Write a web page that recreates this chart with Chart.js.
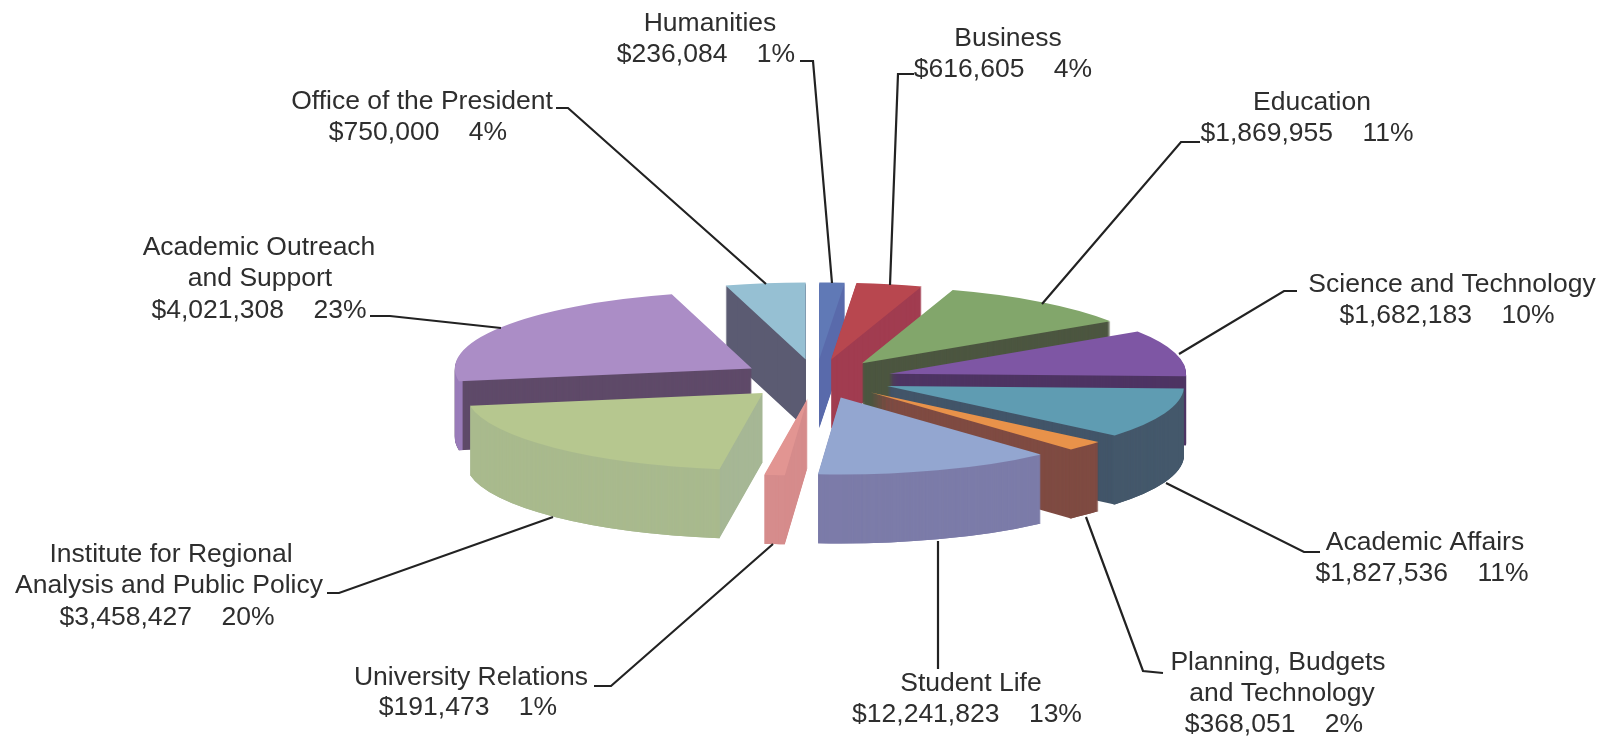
<!DOCTYPE html>
<html>
<head>
<meta charset="utf-8">
<script src="https://cdn.jsdelivr.net/npm/chart.js@4"></script>
<style>html,body{margin:0;padding:0;background:#fff}canvas{display:block}</style>
</head>
<body>
<canvas id="c" width="1610" height="739"></canvas>
<script>
const categories = ["Humanities","Business","Education","Science and Technology","Academic Affairs","Planning, Budgets and Technology","Student Life","University Relations","Institute for Regional Analysis and Public Policy","Academic Outreach and Support","Office of the President"];
// Slice sizes. The printed Student Life figure reads $12,241,823, but its 13% share and its angle fit 2,241,823.
const amounts = [236084,616605,1869955,1682183,1827536,368051,2241823,191473,3458427,4021308,750000];
const amountLabels = ["$236,084","$616,605","$1,869,955","$1,682,183","$1,827,536","$368,051","$12,241,823","$191,473","$3,458,427","$4,021,308","$750,000"];
const percentLabels = ["1%","4%","11%","10%","11%","2%","13%","1%","20%","23%","4%"];

const faceColors = ["#6079b6","#b8474f","#82a66b","#7e56a4","#5f9cb2","#e8924a","#93a6d0","#e29592","#b6c78f","#ab8dc6","#96c0d3"];
const wallColors = ["#5a6bac","#a13c50","#4c5640","#4e3463","#425569","#7f4b42","#7c7ba8","#d68c8c","#a6b795","#5f4a69","#5b5b72"];
const rimColors  = ["#5a6bac","#a13c50","#4c5640","#4e3463","#44586b","#7f4b42","#7c7ca9","#d68c8c","#a9ba8d","#9a7dba","#5b5b72"];

const labelLines = [["Humanities"],["Business"],["Education"],["Science and Technology"],["Academic Affairs"],["Planning, Budgets","and Technology"],["Student Life"],["University Relations"],["Institute for Regional","Analysis and Public Policy"],["Academic Outreach","and Support"],["Office of the President"]];
const labelCenters = [[[710,23.5],[706,55]],[[1008,39],[1003,70]],[[1312,103],[1307,134]],[[1452,285],[1447,316]],[[1425,543],[1422,574]],[[1278,663],[1282,694],[1274,725]],[[971,684],[967,715]],[[471,678],[468,708]],[[171,555],[169,586],[167,618]],[[259,248],[260,279],[259,311]],[[422,102],[418,133]]];
const leaders = [[[800,61],[813,61],[832,283]],[[914,74],[898,74],[890,285]],[[1200,142],[1181,142],[1042,304]],[[1297,291],[1284,291],[1179,354]],[[1320,552],[1304,552],[1166,483]],[[1163,673],[1143,671],[1086,517]],[[938,669],[938,541]],[[594,686],[611,686],[773,544]],[[327,593],[339,593],[553,517]],[[370,316],[390,316],[501,328]],[[556,108],[568,108],[766,284]]];

const pieCenter = {x:816, y:379};
const tilt = 0.259, depth = 69, explode = 76, pieRadius = 297;

function flat(color){return {backgroundColor:color,borderColor:color,borderWidth:0,borderAlign:'center',borderRadius:0,offset:0,spacing:0,circular:true,borderDash:[],borderDashOffset:0,borderJoinStyle:'round'};}

const pie3d = {
  id:'pie3d',
  beforeDatasetDraw(chart,args){
    const ctx = chart.ctx;
    const arcs = args.meta.data;
    const order = arcs.map((a,i)=>i).sort((p,q)=>{
      const h = i => (arcs[i].startAngle+arcs[i].endAngle)/2;
      return Math.sin(h(p))-Math.sin(h(q));
    });
    for(const i of order){
      const arc=arcs[i], own=arc.options;
      const start=arc.startAngle,end=arc.endAngle,sweep=arc.circumference,inner=arc.innerRadius;
      const mid=(start+end)/2;
      const place=dz=>{
        ctx.translate(pieCenter.x,pieCenter.y+dz);
        ctx.scale(1,tilt);
        ctx.translate(Math.cos(mid)*explode-arc.x,Math.sin(mid)*explode-arc.y);
      };
      const extrude=()=>{for(let z=depth;z>0;z--){ctx.save();place(z);arc.draw(ctx);ctx.restore();}};
      arc.options=flat(wallColors[i]);
      extrude();
      // the curved outer wall only shows where it faces the viewer
      const s=Math.max(start,0),e=Math.min(end,Math.PI);
      if(e>s){
        arc.options=flat(rimColors[i]);
        arc.startAngle=s;arc.endAngle=e;arc.circumference=e-s;arc.innerRadius=arc.outerRadius-4;
        extrude();
        arc.startAngle=start;arc.endAngle=end;arc.circumference=sweep;arc.innerRadius=inner;
      }
      arc.options=own;
      ctx.save();place(0);arc.draw(ctx);ctx.restore();
    }
    return false;
  },
  afterDraw(chart){
    const ctx=chart.ctx;
    ctx.save();
    ctx.strokeStyle='#222';ctx.lineWidth=2.2;ctx.lineJoin='miter';
    leaders.forEach(pts=>{ctx.beginPath();pts.forEach((p,i)=>i?ctx.lineTo(p[0],p[1]):ctx.moveTo(p[0],p[1]));ctx.stroke();});
    ctx.fillStyle='#2e2e2e';ctx.font='26.5px "Liberation Sans", Arial, sans-serif';ctx.textAlign='center';ctx.textBaseline='middle';
    categories.forEach((_,i)=>{
      const rows=labelLines[i].concat(amountLabels[i]+'    '+percentLabels[i]);
      rows.forEach((t,r)=>ctx.fillText(t,labelCenters[i][r][0],labelCenters[i][r][1]));
    });
    ctx.restore();
  }
};

new Chart(document.getElementById('c'),{
  type:'pie',
  data:{labels:categories,datasets:[{data:amounts,backgroundColor:faceColors,borderWidth:0,radius:pieRadius,clip:false}]},
  options:{responsive:false,animation:false,devicePixelRatio:1,plugins:{legend:{display:false},tooltip:{enabled:false},title:{display:false}}},
  plugins:[pie3d]
});
</script>
</body>
</html>
